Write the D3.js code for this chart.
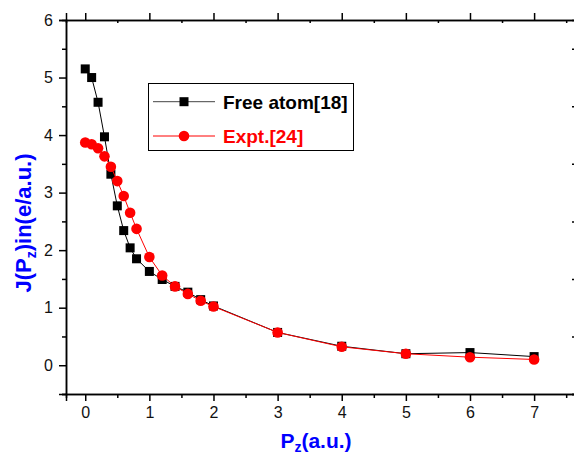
<!DOCTYPE html>
<html>
<head>
<meta charset="utf-8">
<script src="https://cdn.jsdelivr.net/npm/d3@7"></script>
<style>
  body { margin: 0; background: #fff; }
  svg { display: block; font-family: "Liberation Sans", Arial, sans-serif; }
</style>
</head>
<body>
<svg id="chart" width="574" height="454"></svg>
<script>
// momentum values (a.u.)
var pz = [0, 0.1, 0.2, 0.3, 0.4, 0.5, 0.6, 0.7, 0.8, 1.0, 1.2, 1.4, 1.6, 1.8, 2.0, 3, 4, 5, 6, 7];
// Free atom[18]
var freeAtom = [5.15, 5.0, 4.57, 3.97, 3.32, 2.77, 2.34, 2.04, 1.85, 1.63, 1.49, 1.37, 1.27, 1.14, 1.03, 0.57, 0.33, 0.2, 0.22, 0.15];
// Expt.[24]
var expt = [3.87, 3.84, 3.77, 3.63, 3.45, 3.2, 2.94, 2.65, 2.37, 1.88, 1.56, 1.37, 1.24, 1.12, 1.02, 0.57, 0.32, 0.2, 0.14, 0.1];

var xTicks = [0, 1, 2, 3, 4, 5, 6, 7];
var xMinor = [0.5, 1.5, 2.5, 3.5, 4.5, 5.5, 6.5, 7.5];
var yTicks = [0, 1, 2, 3, 4, 5, 6];
var yMinor = [-0.5, 0.5, 1.5, 2.5, 3.5, 4.5, 5.5];

drawChart();

function drawChart() {
    var pLeft = 66, pTop = 20, pRight = 579, pBottom = 394;

    var svg = d3.select("#chart");

    var x = d3.scaleLinear().domain([-0.3, 7.7]).range([pLeft, pRight]);
    var y = d3.scaleLinear().domain([-0.5, 6]).range([pBottom, pTop]);

    function styleAxis(g) {
        g.select(".domain").attr("stroke", "#000").attr("stroke-width", 1.5);
        g.selectAll(".tick line").attr("stroke", "#000").attr("stroke-width", 1.5);
        g.selectAll(".tick text").attr("font-size", 16).attr("fill", "#111");
        g.attr("font-family", null);
    }

    // bottom axis
    svg.append("g").attr("transform", "translate(0," + pBottom + ")")
        .call(d3.axisBottom(x).tickValues(xTicks).tickSize(7).tickPadding(6).tickFormat(d3.format("d")))
        .call(styleAxis);
    svg.append("g").attr("transform", "translate(0," + pBottom + ")")
        .call(d3.axisBottom(x).tickValues(xMinor).tickSize(4).tickFormat(""))
        .call(styleAxis);

    // top axis
    svg.append("g").attr("transform", "translate(0," + pTop + ")")
        .call(d3.axisTop(x).tickValues(xTicks).tickSize(7).tickFormat(""))
        .call(styleAxis);
    svg.append("g").attr("transform", "translate(0," + pTop + ")")
        .call(d3.axisBottom(x).tickValues(xMinor).tickSize(3).tickFormat(""))
        .call(styleAxis);

    // left axis
    svg.append("g").attr("transform", "translate(" + pLeft + ",0)")
        .call(d3.axisLeft(y).tickValues(yTicks).tickSize(7).tickPadding(6).tickFormat(d3.format("d")))
        .call(styleAxis);
    svg.append("g").attr("transform", "translate(" + pLeft + ",0)")
        .call(d3.axisLeft(y).tickValues(yMinor).tickSize(4).tickFormat(""))
        .call(styleAxis);

    // right axis (mostly off the picture)
    svg.append("g").attr("transform", "translate(" + pRight + ",0)")
        .call(d3.axisRight(y).tickValues(yMinor).tickSize(-7).tickFormat(""))
        .call(styleAxis);

    // series
    var line = d3.line()
        .x(function (d, i) { return x(pz[i]); })
        .y(function (d) { return y(d); });

    svg.append("path").datum(freeAtom)
        .attr("d", line).attr("fill", "none").attr("stroke", "#000").attr("stroke-width", 1);

    svg.selectAll(".sq").data(freeAtom).enter().append("rect")
        .attr("class", "sq")
        .attr("x", function (d, i) { return x(pz[i]) - 4.5; })
        .attr("y", function (d) { return y(d) - 4.5; })
        .attr("width", 9).attr("height", 9)
        .attr("fill", "#000");

    svg.append("path").datum(expt)
        .attr("d", line).attr("fill", "none").attr("stroke", "#ff0000").attr("stroke-width", 1);

    svg.selectAll(".ci").data(expt).enter().append("circle")
        .attr("class", "ci")
        .attr("cx", function (d, i) { return x(pz[i]); })
        .attr("cy", function (d) { return y(d); })
        .attr("r", 5.3)
        .attr("fill", "#ff0000");

    // legend
    var lg = svg.append("g");
    lg.append("rect").attr("x", 148.5).attr("y", 83.5).attr("width", 205).attr("height", 67)
        .attr("fill", "#fff").attr("stroke", "#000").attr("stroke-width", 1);
    lg.append("line").attr("x1", 153).attr("x2", 215).attr("y1", 101.7).attr("y2", 101.7)
        .attr("stroke", "#444").attr("stroke-width", 1);
    lg.append("rect").attr("x", 179.5).attr("y", 97.2).attr("width", 9).attr("height", 9).attr("fill", "#000");
    lg.append("text").attr("x", 223).attr("y", 108.5).attr("font-size", 19).attr("font-weight", "bold")
        .attr("fill", "#000").text("Free atom[18]");
    lg.append("line").attr("x1", 153).attr("x2", 215).attr("y1", 136).attr("y2", 136)
        .attr("stroke", "#ff0000").attr("stroke-width", 1);
    lg.append("circle").attr("cx", 184).attr("cy", 136).attr("r", 5.3).attr("fill", "#ff0000");
    lg.append("text").attr("x", 223).attr("y", 142.8).attr("font-size", 19).attr("font-weight", "bold")
        .attr("fill", "#ff0000").text("Expt.[24]");

    // axis titles
    var xt = svg.append("text").attr("x", 316).attr("y", 447.5).attr("text-anchor", "middle")
        .attr("font-size", 21).attr("font-weight", "bold").attr("fill", "#0000ff");
    xt.append("tspan").text("P");
    xt.append("tspan").attr("font-size", 14).attr("dy", 4).text("z");
    xt.append("tspan").attr("dy", -4).text("(a.u.)");

    var yt = svg.append("text").attr("transform", "translate(31,223) rotate(-90)").attr("text-anchor", "middle")
        .attr("font-size", 22).attr("font-weight", "bold").attr("fill", "#0000ff");
    yt.append("tspan").text("J(P");
    yt.append("tspan").attr("font-size", 14).attr("dy", 5).text("z");
    yt.append("tspan").attr("dy", -5).text(")in(e/a.u.)");
}
</script>
</body>
</html>
